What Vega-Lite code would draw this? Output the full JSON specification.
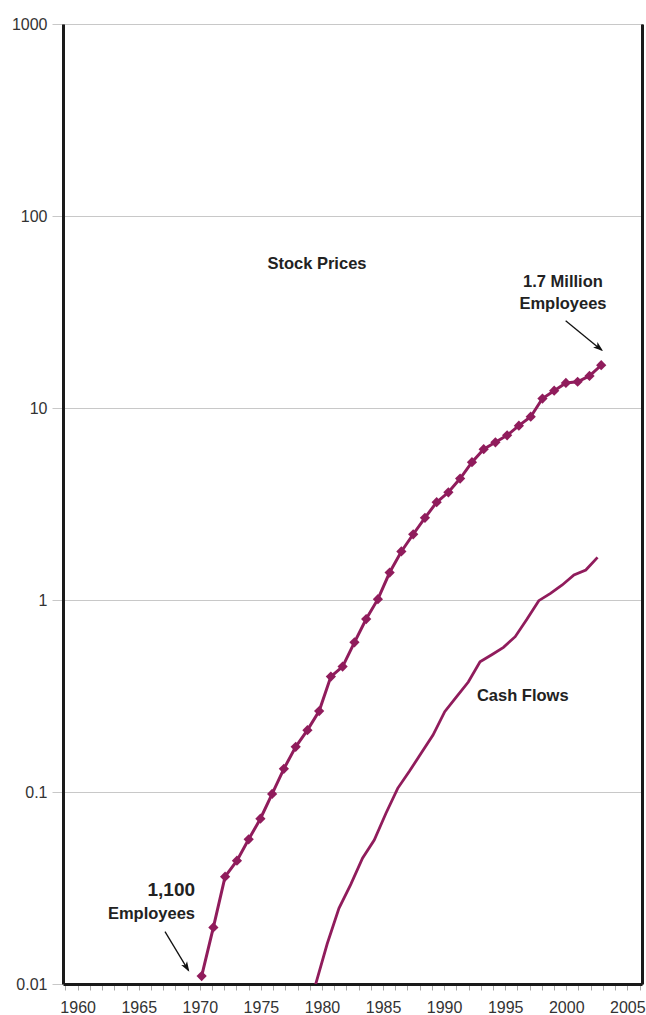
{
  "$schema": "https://vega.github.io/schema/vega-lite/v6.json",
  "width": 579,
  "height": 960,
  "autosize": {"type": "none"},
  "padding": {"left": 63, "top": 24, "right": 4, "bottom": 31},
  "background": "white",
  "config": {"font": "Liberation Sans", "view": {"stroke": "#111", "strokeWidth": 1}},
  "resolve": {"axis": {"x": "independent", "y": "independent"}},
  "datasets": {
    "stock": [
      {"year": 1970.15, "value": 0.0110}, {"year": 1971.11, "value": 0.0197}, {"year": 1972.07, "value": 0.0362},
      {"year": 1973.04, "value": 0.0439}, {"year": 1974.00, "value": 0.0567}, {"year": 1974.96, "value": 0.0726},
      {"year": 1975.92, "value": 0.0977}, {"year": 1976.88, "value": 0.132}, {"year": 1977.85, "value": 0.172},
      {"year": 1978.81, "value": 0.210}, {"year": 1979.77, "value": 0.264}, {"year": 1980.73, "value": 0.399},
      {"year": 1981.69, "value": 0.450}, {"year": 1982.66, "value": 0.602}, {"year": 1983.62, "value": 0.796},
      {"year": 1984.58, "value": 1.01}, {"year": 1985.54, "value": 1.39}, {"year": 1986.50, "value": 1.79},
      {"year": 1987.47, "value": 2.20}, {"year": 1988.43, "value": 2.68}, {"year": 1989.39, "value": 3.23},
      {"year": 1990.35, "value": 3.64}, {"year": 1991.31, "value": 4.29}, {"year": 1992.28, "value": 5.22},
      {"year": 1993.24, "value": 6.10}, {"year": 1994.20, "value": 6.63}, {"year": 1995.16, "value": 7.21},
      {"year": 1996.12, "value": 8.09}, {"year": 1997.09, "value": 9.01}, {"year": 1998.05, "value": 11.2},
      {"year": 1999.01, "value": 12.3}, {"year": 1999.97, "value": 13.5}, {"year": 2000.93, "value": 13.7},
      {"year": 2001.90, "value": 14.7}, {"year": 2002.86, "value": 16.7}
    ],
    "cash": [
      {"year": 1979.47, "value": 0.0099}, {"year": 1980.43, "value": 0.0162}, {"year": 1981.39, "value": 0.0248},
      {"year": 1982.36, "value": 0.0330}, {"year": 1983.32, "value": 0.0452}, {"year": 1984.28, "value": 0.0562},
      {"year": 1985.24, "value": 0.0775}, {"year": 1986.20, "value": 0.1045}, {"year": 1987.17, "value": 0.1286},
      {"year": 1988.13, "value": 0.1596}, {"year": 1989.09, "value": 0.198}, {"year": 1990.05, "value": 0.262},
      {"year": 1991.01, "value": 0.3125}, {"year": 1991.98, "value": 0.374}, {"year": 1992.94, "value": 0.477},
      {"year": 1993.90, "value": 0.519}, {"year": 1994.86, "value": 0.567}, {"year": 1995.82, "value": 0.644},
      {"year": 1996.79, "value": 0.796}, {"year": 1997.75, "value": 0.992}, {"year": 1998.71, "value": 1.082},
      {"year": 1999.67, "value": 1.197}, {"year": 2000.63, "value": 1.349}, {"year": 2001.60, "value": 1.433},
      {"year": 2002.56, "value": 1.668}
    ],
    "arrows": [
      {"arrow": "start", "year": 1967.15, "value": 0.01873, "year2": 1969.05, "value2": 0.0118},
      {"arrow": "end", "year": 1999.95, "value": 28.5, "year2": 2002.9, "value2": 20.0}
    ],
    "heads": [
      {"arrow": "start", "year": 1969.14, "value": 0.01159},
      {"arrow": "end", "year": 2003.01, "value": 19.81}
    ],
    "labels": [
      {"text": "Stock Prices", "year": 1979.59, "value": 56.4},
      {"text": "1.7 Million", "year": 1999.73, "value": 45.5},
      {"text": "Employees", "year": 1999.73, "value": 34.8},
      {"text": "Cash Flows", "year": 1996.44, "value": 0.318}
    ],
    "leftlabels": [
      {"text": "1,100", "year": 1969.61, "value": 0.0309, "group": "big"},
      {"text": "Employees", "year": 1969.61, "value": 0.02315, "group": "small"}
    ]
  },
  "layer": [
    {
      "data": {"name": "stock"},
      "mark": {"type": "line", "color": "#901c5c", "strokeWidth": 3},
      "encoding": {
        "x": {"field": "year", "type": "quantitative", "scale": {"domain": [1958.8, 2006.2], "nice": false, "zero": false},
          "axis": {"values": [1959,1960,1961,1962,1963,1964,1965,1966,1967,1968,1969,1970,1971,1972,1973,1974,1975,1976,1977,1978,1979,1980,1981,1982,1983,1984,1985,1986,1987,1988,1989,1990,1991,1992,1993,1994,1995,1996,1997,1998,1999,2000,2001,2002,2003,2004,2005,2006],
            "format": "d", "labelExpr": "datum.value % 5 === 0 ? datum.label : ''", "labelOverlap": false, "labelFlush": false,
            "labelFontSize": 16, "labelColor": "#333", "labelPadding": 9, "tickSize": 6, "tickColor": "#aaa",
            "domainColor": "#1a1a1a", "domainWidth": 3, "grid": false, "title": null}},
        "y": {"field": "value", "type": "quantitative", "scale": {"type": "log", "domain": [0.01, 1000], "nice": false},
          "axis": {"values": [0.01, 0.1, 1, 10, 100, 1000], "format": "~g", "labelFontSize": 16, "labelColor": "#333",
            "labelPadding": 5, "tickSize": 11, "tickColor": "#c8c8c8", "grid": true, "gridColor": "#c8c8c8",
            "domainColor": "#1a1a1a", "domainWidth": 3, "title": null}}
      }
    },
    {
      "data": {"name": "stock"},
      "mark": {"type": "point", "shape": "diamond", "filled": true, "size": 105, "color": "#901c5c", "opacity": 1},
      "encoding": {
        "x": {"field": "year", "type": "quantitative", "axis": null},
        "y": {"field": "value", "type": "quantitative", "axis": null}
      }
    },
    {
      "data": {"name": "cash"},
      "mark": {"type": "line", "color": "#901c5c", "strokeWidth": 2.8, "clip": true},
      "encoding": {
        "x": {"field": "year", "type": "quantitative", "axis": null},
        "y": {"field": "value", "type": "quantitative",
          "axis": {"orient": "right", "labels": false, "ticks": false, "grid": false, "domainColor": "#1a1a1a", "domainWidth": 3, "title": null}}
      }
    },
    {
      "data": {"name": "arrows"},
      "mark": {"type": "rule", "color": "#111", "strokeWidth": 1.3},
      "encoding": {
        "x": {"field": "year", "type": "quantitative", "axis": null},
        "y": {"field": "value", "type": "quantitative", "axis": null},
        "x2": {"field": "year2"},
        "y2": {"field": "value2"}
      }
    },
    {
      "data": {"name": "heads"},
      "transform": [{"filter": "datum.arrow === 'start'"}],
      "mark": {"type": "point", "shape": "M0,0L-0.55,1.6L0,1.2L0.55,1.6Z", "filled": true, "size": 156, "color": "#111", "opacity": 1, "angle": 148.7},
      "encoding": {
        "x": {"field": "year", "type": "quantitative", "axis": null},
        "y": {"field": "value", "type": "quantitative", "axis": null}
      }
    },
    {
      "data": {"name": "heads"},
      "transform": [{"filter": "datum.arrow === 'end'"}],
      "mark": {"type": "point", "shape": "M0,0L-0.55,1.6L0,1.2L0.55,1.6Z", "filled": true, "size": 156, "color": "#111", "opacity": 1, "angle": 128.8},
      "encoding": {
        "x": {"field": "year", "type": "quantitative", "axis": null},
        "y": {"field": "value", "type": "quantitative", "axis": null}
      }
    },
    {
      "data": {"name": "labels"},
      "mark": {"type": "text", "fontWeight": "bold", "fontSize": 16.5, "color": "#222", "align": "center", "baseline": "middle"},
      "encoding": {
        "x": {"field": "year", "type": "quantitative", "axis": null},
        "y": {"field": "value", "type": "quantitative", "axis": null},
        "text": {"field": "text"}
      }
    },
    {
      "data": {"name": "leftlabels"},
      "transform": [{"filter": "datum.group === 'big'"}],
      "mark": {"type": "text", "fontWeight": "bold", "fontSize": 19, "color": "#222", "align": "right", "baseline": "middle"},
      "encoding": {
        "x": {"field": "year", "type": "quantitative", "axis": null},
        "y": {"field": "value", "type": "quantitative", "axis": null},
        "text": {"field": "text"}
      }
    },
    {
      "data": {"name": "leftlabels"},
      "transform": [{"filter": "datum.group === 'small'"}],
      "mark": {"type": "text", "fontWeight": "bold", "fontSize": 16.5, "color": "#222", "align": "right", "baseline": "middle"},
      "encoding": {
        "x": {"field": "year", "type": "quantitative", "axis": null},
        "y": {"field": "value", "type": "quantitative", "axis": null},
        "text": {"field": "text"}
      }
    }
  ]
}
